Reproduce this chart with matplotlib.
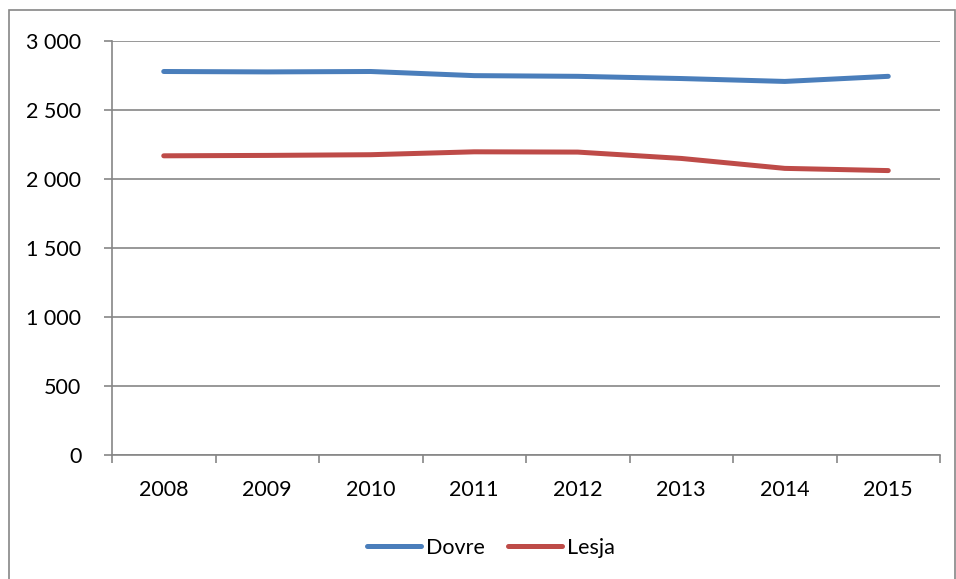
"""Dovre og Lesja 2008-2015 linjediagram"""
import numpy as np
import matplotlib
matplotlib.use("Agg")
import matplotlib.pyplot as plt
from matplotlib.patches import Rectangle
from matplotlib.ticker import FuncFormatter

years = ["2008", "2009", "2010", "2011", "2012", "2013", "2014", "2015"]
dovre = [2779, 2776, 2779, 2749, 2744, 2728, 2707, 2744]
lesja = [2168, 2171, 2176, 2197, 2195, 2149, 2077, 2061]

plt.rcParams["font.family"] = ["Lato", "DejaVu Sans"]

W, H = 956, 579
fig = plt.figure(figsize=(W / 100, H / 100), dpi=100)

# ytre ramme
fig.patches.append(Rectangle((9 / W, -0.01), (W - 10) / W, (H - 10) / H + 0.01,
                             transform=fig.transFigure, fill=False,
                             edgecolor="#868686", linewidth=1.2))

left, right, top, bottom = 112, 940, 41, 455
ax = fig.add_axes([left / W, 1 - bottom / H, (right - left) / W, (bottom - top) / H])

grid_color = "#868686"
fs = 15.5
x = np.arange(len(years))
ax.plot(x, dovre, color="#4A7EBB", linewidth=3.6, solid_capstyle="round",
        solid_joinstyle="round", label="Dovre")
ax.plot(x, lesja, color="#BE4B48", linewidth=3.6, solid_capstyle="round",
        solid_joinstyle="round", label="Lesja")

ax.set_xlim(-0.5, len(years) - 0.5)
ax.set_ylim(0, 3000)
ax.set_yticks(np.arange(0, 3001, 500))
ax.yaxis.set_major_formatter(FuncFormatter(lambda v, p: f"{int(v):,}".replace(",", " ")))
ax.yaxis.grid(True, color=grid_color, linewidth=1.2)
ax.set_axisbelow(True)

ax.set_xticks(x)
ax.set_xticklabels(years)
ax.set_xticks(np.arange(-0.5, len(years)), minor=True)
ax.tick_params(axis="x", which="major", length=0, pad=18, labelsize=fs)
ax.tick_params(axis="x", which="minor", length=6, width=1.2, color=grid_color, direction="out")
ax.tick_params(axis="y", length=6, width=1.2, color=grid_color, pad=16, labelsize=fs)

for s in ["top", "right"]:
    ax.spines[s].set_visible(False)
for s in ["left", "bottom"]:
    ax.spines[s].set_color(grid_color)
    ax.spines[s].set_linewidth(1.2)

fig.legend(loc="center", bbox_to_anchor=(491 / W, 1 - 548 / H), ncol=2, frameon=False,
           fontsize=fs, handlelength=2.5, handletextpad=0.22, columnspacing=1.1)

fig.savefig("out.png", dpi=100)
plt.close()
